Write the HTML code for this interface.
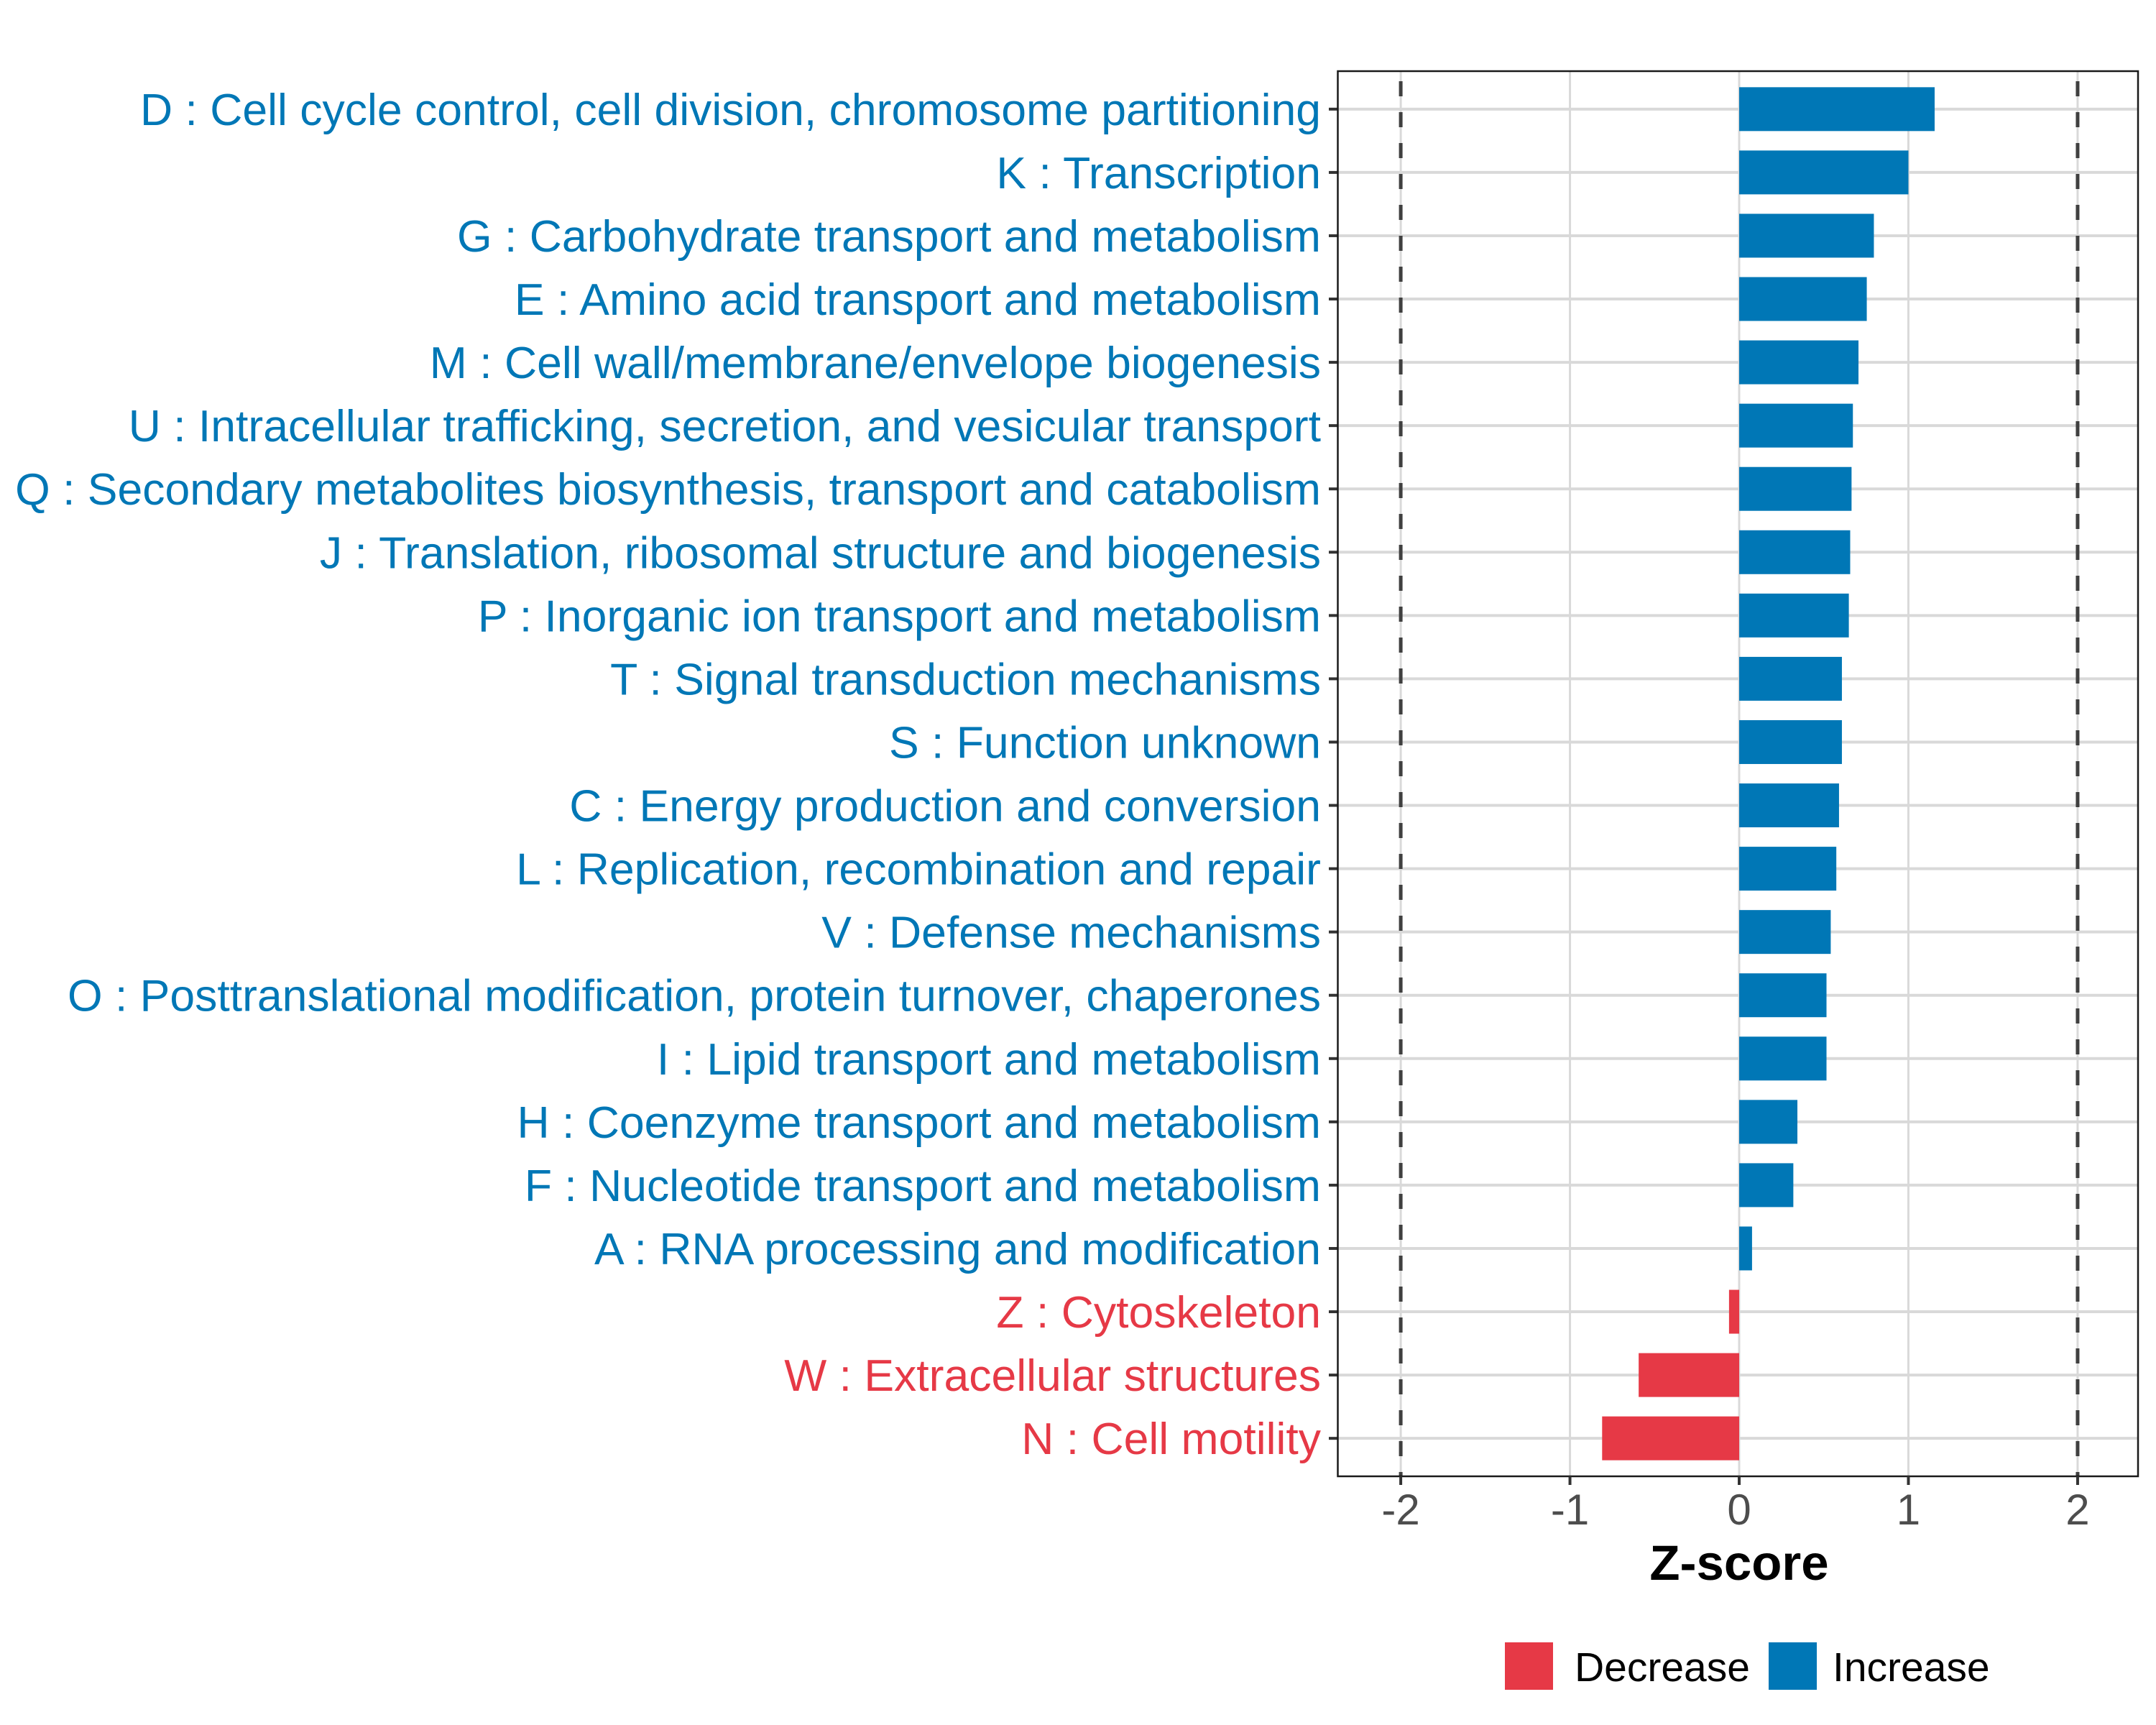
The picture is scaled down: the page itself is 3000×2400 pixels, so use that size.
<!DOCTYPE html>
<html><head><meta charset="utf-8"><style>
html,body{margin:0;padding:0;background:#fff;}
svg{display:block;font-family:"Liberation Sans",Arial,sans-serif;}
</style></head><body>
<svg id="chart" width="3000" height="2400" viewBox="0 0 3000 2400" xmlns="http://www.w3.org/2000/svg">
<rect x="0" y="0" width="3000" height="2400" fill="#fff"/>
<g id="grid"></g><g id="bars"></g><g id="ylabels"></g><g id="xaxis"></g>
<text x="2420" y="2198" text-anchor="middle" font-size="69" font-weight="bold" fill="#000">Z-score</text>
<g>
<rect x="2094" y="2285" width="67" height="66" fill="#E63946"/>
<text x="2191" y="2339" font-size="57" fill="#000">Decrease</text>
<rect x="2461" y="2285" width="67" height="66" fill="#0077B6"/>
<text x="2550" y="2339" font-size="57" fill="#000">Increase</text>
</g>
</svg>
<script>
const categories = ["D : Cell cycle control, cell division, chromosome partitioning","K : Transcription","G : Carbohydrate transport and metabolism","E : Amino acid transport and metabolism","M : Cell wall/membrane/envelope biogenesis","U : Intracellular trafficking, secretion, and vesicular transport","Q : Secondary metabolites biosynthesis, transport and catabolism","J : Translation, ribosomal structure and biogenesis","P : Inorganic ion transport and metabolism","T : Signal transduction mechanisms","S : Function unknown","C : Energy production and conversion","L : Replication, recombination and repair","V : Defense mechanisms","O : Posttranslational modification, protein turnover, chaperones","I : Lipid transport and metabolism","H : Coenzyme transport and metabolism","F : Nucleotide transport and metabolism","A : RNA processing and modification","Z : Cytoskeleton","W : Extracellular structures","N : Cell motility"];
const zscores = [1.155,1.0,0.796,0.754,0.705,0.672,0.664,0.656,0.648,0.607,0.607,0.59,0.574,0.541,0.516,0.516,0.344,0.32,0.076,-0.06,-0.594,-0.81];
const xTicks = [-2,-1,0,1,2];
const xTickLabels = ["-2","-1","0","1","2"];
const thresholds = [-2,2];

const NS="http://www.w3.org/2000/svg";
const P={l:1861.5,r:2975,t:99,b:2054};
const XMIN=-2.372,XMAX=2.357;
const n=categories.length;
const step=(P.b-P.t)/(n-1+1.2);
function xs(v){return P.l+(v-XMIN)/(XMAX-XMIN)*(P.r-P.l);}
function ys(i){return P.t+step*(0.6+i);}
function mk(tag,attrs,parent){const e=document.createElementNS(NS,tag);for(const k in attrs)e.setAttribute(k,attrs[k]);parent.appendChild(e);return e;}
const grid=document.getElementById('grid'),bars=document.getElementById('bars'),yl=document.getElementById('ylabels'),xa=document.getElementById('xaxis');
xTicks.forEach((t,i)=>{const l=mk('line',{x1:xs(t),x2:xs(t),y1:P.t,y2:P.b,stroke:'#d9d9d9','stroke-width':3},grid);

});
categories.forEach((c,i)=>{const l=mk('line',{x1:P.l,x2:P.r,y1:ys(i),y2:ys(i),stroke:'#d9d9d9','stroke-width':4},grid);

});
thresholds.forEach(t=>{const l=mk('line',{x1:xs(t),x2:xs(t),y1:P.t,y2:P.b,stroke:'#404040','stroke-width':5,'stroke-dasharray':'21 22','stroke-dashoffset':'-14'},grid);

});
const bh=61;
zscores.forEach((v,i)=>{const x0=xs(0),x1=xs(v);const col=v<0?'#E63946':'#0077B6';
const r=mk('rect',{x:Math.min(x0,x1),y:ys(i)-bh/2,width:Math.abs(x1-x0),height:bh,fill:col},bars);


const t=mk('text',{x:1838,y:ys(i)+22,'text-anchor':'end','font-size':62.5,fill:col},yl);t.textContent=categories[i];


const tk=mk('line',{x1:1849,x2:P.l,y1:ys(i),y2:ys(i),stroke:'#333','stroke-width':4},yl);

});
const b=mk('rect',{x:P.l,y:P.t,width:P.r-P.l,height:P.b-P.t,fill:'none',stroke:'#1a1a1a','stroke-width':2.5},xa);


xTicks.forEach((t,i)=>{const l=mk('line',{x1:xs(t),x2:xs(t),y1:P.b,y2:P.b+12,stroke:'#333','stroke-width':4},xa);


const tx=mk('text',{x:xs(t),y:2121,'text-anchor':'middle','font-size':60,fill:'#4d4d4d'},xa);tx.textContent=xTickLabels[i];

});
</script>
</body></html>
